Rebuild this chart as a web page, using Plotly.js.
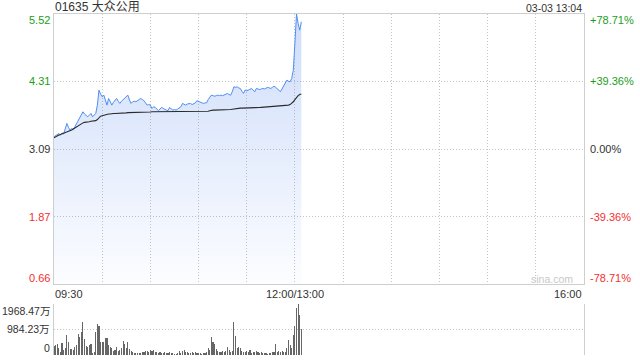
<!DOCTYPE html>
<html><head><meta charset="utf-8">
<script src="https://cdn.plot.ly/plotly-3.0.1.min.js"></script>
<style>html,body{margin:0;padding:0;background:#fff}#chart{width:640px;height:360px}</style>
</head><body><div id="chart"></div>
<script>
const stockCode = '01635';
const stockName = '大众公用';
const stamp = '03-03 13:04';
const prevClose = 3.09;
const sessionMinutes = 330;
const timeTicks = ['09:30', '12:00/13:00', '16:00'];
const timeTickPos = [0, 150, 330];
const priceTicks = ['5.52', '4.31', '3.09', '1.87', '0.66'];
const pctTicks = ['+78.71%', '+39.36%', '0.00%', '-39.36%', '-78.71%'];
const volTicks = ['1968.47万', '984.23万', '0'];
const volTickVals = [1968.47, 984.23, 0];

const price = [
3.31,3.33,3.35,3.37,3.34,3.38,3.36,3.45,3.55,3.48,
3.43,3.46,3.44,3.49,3.55,3.61,3.66,3.72,3.76,3.72,
3.69,3.67,3.70,3.73,3.67,3.70,3.73,3.88,4.15,4.08,
4.03,4.06,3.97,3.88,4.00,3.95,3.88,3.93,3.97,4.00,
3.95,3.91,3.95,3.98,4.00,4.03,4.06,3.97,3.91,3.94,
3.95,3.94,3.96,3.98,4.00,3.98,3.96,3.92,3.88,3.89,
3.88,3.82,3.85,3.84,3.81,3.78,3.81,3.84,3.82,3.80,
3.79,3.78,3.84,3.81,3.79,3.80,3.79,3.81,3.83,3.85,
3.91,3.89,3.88,3.90,3.91,3.91,3.89,3.90,3.92,3.96,
3.95,3.94,3.92,3.91,3.92,3.92,3.98,4.02,4.06,4.05,
4.04,4.05,4.06,4.05,4.06,4.05,4.06,4.07,4.09,4.07,
4.06,4.12,4.21,4.20,4.21,4.19,4.18,4.13,4.09,4.15,
4.14,4.15,4.16,4.18,4.15,4.12,4.18,4.17,4.16,4.17,
4.18,4.17,4.19,4.20,4.19,4.18,4.20,4.22,4.20,4.18,
4.15,4.12,4.18,4.24,4.30,4.33,4.31,4.30,4.36,4.51,
5.00,5.52,5.35,5.23,5.38
];
const avgPrice = [
3.29,3.31,3.32,3.34,3.35,3.36,3.37,3.38,3.39,3.40,
3.41,3.43,3.45,3.47,3.49,3.51,3.53,3.55,3.56,3.57,
3.57,3.58,3.58,3.59,3.59,3.60,3.60,3.62,3.66,3.68,
3.69,3.70,3.71,3.72,3.72,3.72,3.73,3.73,3.73,3.73,
3.73,3.735,3.74,3.74,3.74,3.74,3.745,3.745,3.745,3.745,
3.75,3.75,3.75,3.75,3.75,3.75,3.755,3.755,3.755,3.755,
3.755,3.76,3.76,3.76,3.76,3.76,3.76,3.76,3.76,3.76,
3.76,3.76,3.76,3.76,3.762,3.762,3.762,3.762,3.762,3.764,
3.764,3.764,3.765,3.765,3.765,3.766,3.766,3.766,3.767,3.767,
3.768,3.768,3.768,3.768,3.769,3.769,3.77,3.78,3.79,3.79,
3.79,3.79,3.795,3.795,3.795,3.795,3.80,3.80,3.80,3.80,
3.80,3.805,3.81,3.82,3.822,3.824,3.826,3.826,3.826,3.827,
3.827,3.828,3.829,3.83,3.83,3.832,3.834,3.836,3.838,3.84,
3.842,3.844,3.846,3.848,3.85,3.852,3.854,3.856,3.858,3.86,
3.862,3.864,3.866,3.868,3.87,3.875,3.88,3.89,3.91,3.94,
3.98,4.02,4.05,4.07,4.08
];
const volume = [
360,386,425,283,129,450,193,283,772,489,
232,232,193,322,386,798,708,875,1287,618,
360,322,386,412,64,103,901,1210,1133,515,
515,515,644,669,386,322,257,154,193,322,
154,193,257,553,412,283,515,219,154,103,
64,77,64,64,90,129,129,154,154,129,
193,154,193,129,103,90,129,64,90,103,
77,64,103,77,64,
39,51,90,154,77,167,193,129,103,64,90,103,77,129,90,64,77,51,64,90,129,257,
180,
708,489,412,232,154,129,103,154,103,154,322,193,129,154,
1287,
746,257,296,257,154,129,103,154,103,193,90,129,103,154,103,77,103,64,90,77,51,77,90,103,129,425,129,154,129,154,103,103,283,579,386,257,
772,1133,1827,1968.47,1544,1004
];
const minutes = price.map((_, i) => i);

const half = Math.max(...price) - prevClose;
const eps = 1e-6;
const yMin = prevClose - half - eps, yMax = prevClose + half + eps;
const volMax = Math.max(...volume);

const GREEN = '#1a9e1a', RED = '#f23030', DARK = '#333333';
const FONT = 'Liberation Sans, Arial, Noto Sans CJK SC, sans-serif';
const tickColor = v => (v > prevClose + 1e-9 ? GREEN : (v < prevClose - 1e-9 ? RED : DARK));

const traces = [
  {
    x: minutes, y: price, type: 'scatter', mode: 'lines',
    line: {color: '#4f8ef3', width: 1},
    fill: 'tozeroy',
    fillgradient: {type: 'vertical', start: yMin, stop: yMax,
      colorscale: [[0, 'rgba(90,140,240,0.02)'], [1, 'rgba(90,140,240,0.30)']]},
    xaxis: 'x', yaxis: 'y', hoverinfo: 'skip'
  },
  {
    x: minutes, y: avgPrice, type: 'scatter', mode: 'lines',
    line: {color: '#2a2a2a', width: 1.1},
    xaxis: 'x', yaxis: 'y', hoverinfo: 'skip'
  },
  {
    x: minutes, y: volume, type: 'bar',
    marker: {color: '#666666', line: {width: 0}},
    width: 0.7,
    xaxis: 'x2', yaxis: 'y2', hoverinfo: 'skip'
  }
];

const priceVals = priceTicks.map(Number);
const annotations = [];
priceTicks.forEach((t, i) => {
  const v = priceVals[i];
  const shift = i === 0 ? -6 : (i === priceTicks.length - 1 ? 6 : 0);
  annotations.push({xref: 'paper', yref: 'y', x: 0, y: v, xanchor: 'right', yanchor: 'middle',
    xshift: -2, yshift: shift, text: t, showarrow: false, font: {family: FONT, size: 11, color: tickColor(v)}});
  annotations.push({xref: 'paper', yref: 'y', x: 1, y: v, xanchor: 'left', yanchor: 'middle',
    xshift: 4, yshift: shift, text: pctTicks[i], showarrow: false, font: {family: FONT, size: 11, color: tickColor(v)}});
});
volTicks.forEach((t, i) => {
  const shift = i === 0 ? -7.5 : (i === volTicks.length - 1 ? 6.5 : 0);
  annotations.push({xref: 'paper', yref: 'y2', x: 0, y: volTickVals[i], xanchor: 'right', yanchor: 'middle',
    xshift: -2, yshift: shift, text: t, showarrow: false, font: {family: FONT, size: 10.5, color: DARK}});
});
timeTicks.forEach((t, i) => {
  const anchor = i === 0 ? 'left' : (i === timeTicks.length - 1 ? 'right' : 'center');
  annotations.push({xref: 'x', yref: 'y', x: timeTickPos[i], y: prevClose - half, xanchor: anchor, yanchor: 'middle',
    yshift: -9.5, xshift: i === 0 ? -1 : 0, text: t, showarrow: false, font: {family: FONT, size: 11, color: DARK}});
});
annotations.push({xref: 'paper', yref: 'paper', x: 0, y: 1, xanchor: 'left', yanchor: 'middle',
  xshift: -1, yshift: 7, text: stockCode + ' ' + stockName, showarrow: false, font: {family: FONT, size: 12, color: DARK}});
annotations.push({xref: 'paper', yref: 'paper', x: 1, y: 1, xanchor: 'right', yanchor: 'middle',
  xshift: 0, yshift: 6, text: stamp, showarrow: false, font: {family: FONT, size: 10.5, color: DARK}});
annotations.push({xref: 'paper', yref: 'y', x: 1, y: prevClose - half, xanchor: 'right', yanchor: 'middle',
  xshift: -9, yshift: 5, text: 'sina.com', showarrow: false, font: {family: FONT, size: 10.5, color: '#c8c8c8'}});

const gridTicks = [];
for (let m = 0; m <= sessionMinutes; m += 30) gridTicks.push(m);

const layout = {
  width: 640, height: 360,
  margin: {l: 54, r: 56, t: 14, b: 5, pad: 0},
  paper_bgcolor: '#ffffff', plot_bgcolor: '#ffffff',
  showlegend: false, bargap: 0,
  xaxis: {domain: [0, 1], range: [0, sessionMinutes], anchor: 'y', tickmode: 'array', tickvals: gridTicks,
    showticklabels: false, ticks: '', showgrid: true, gridcolor: '#c4c4c4', griddash: '1px,2px', gridwidth: 1,
    zeroline: false, showline: true, mirror: true, linecolor: '#cfcfcf', linewidth: 1},
  yaxis: {domain: [0.2082, 1], range: [yMin, yMax], anchor: 'x', tickmode: 'array', tickvals: priceVals.slice(1, -1),
    showticklabels: false, ticks: '', showgrid: true, gridcolor: '#c4c4c4', griddash: '1px,2px', gridwidth: 1,
    zeroline: false, showline: true, mirror: true, linecolor: '#cfcfcf', linewidth: 1},
  xaxis2: {domain: [0, 1], range: [0, sessionMinutes], anchor: 'y2', showticklabels: false, ticks: '',
    showgrid: false, zeroline: false, showline: false},
  yaxis2: {domain: [0, 0.1496], range: [0, volMax], anchor: 'x2', tickmode: 'array', tickvals: volTickVals.slice(0, 2),
    showticklabels: false, ticks: '', showgrid: true, gridcolor: '#c4c4c4', griddash: '1px,2px', gridwidth: 1,
    zeroline: false, showline: true, mirror: true, linecolor: '#cfcfcf', linewidth: 1},
  annotations: annotations
};

Plotly.newPlot('chart', traces, layout, {staticPlot: true, displayModeBar: false});
</script>
</body></html>
